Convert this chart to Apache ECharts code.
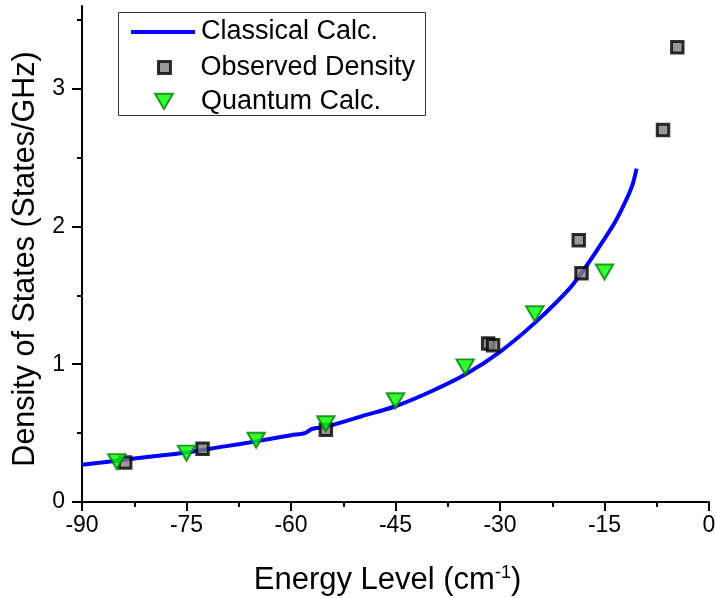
<!DOCTYPE html>
<html>
<head>
<meta charset="utf-8">
<script src="https://cdn.jsdelivr.net/npm/echarts@6/dist/echarts.min.js"></script>
<style>
  html, body { margin: 0; padding: 0; background: #fff; }
  #chart { width: 715px; height: 598px; }
</style>
</head>
<body>
<div id="chart"></div>
<script>
// Classical calculation (continuous curve)
const classicalX = [-90, -85, -80, -75, -70, -65, -60, -58, -57, -55, -50, -45, -40, -35, -30, -25, -20, -17.5, -15, -13.5, -12, -11, -10.4];
const classicalY = [0.27, 0.30, 0.33, 0.36, 0.40, 0.44, 0.485, 0.50, 0.53, 0.545, 0.62, 0.695, 0.80, 0.925, 1.09, 1.30, 1.55, 1.72, 1.91, 2.03, 2.18, 2.30, 2.42];

// Observed density of states
const observedX = [-83.8, -72.7, -55.0, -31.7, -31.0, -18.7, -18.3, -6.6, -4.55];
const observedY = [0.286, 0.386, 0.524, 1.15, 1.138, 1.90, 1.66, 2.70, 3.30];

// Quantum calculation
const quantumX = [-85, -75, -65, -55, -45, -35, -25, -15];
const quantumY = [0.293, 0.355, 0.448, 0.568, 0.735, 0.981, 1.366, 1.669];

// Axis ticks
const yMajorTicks = [0, 1, 2, 3];
const yMinorTicks = [0.5, 1.5, 2.5, 3.5];

const seriesNames = ['Classical Calc.', 'Observed Density', 'Quantum Calc.'];

const zip = (xs, ys) => xs.map((x, i) => [x, ys[i]]);
const FONT = 'Liberation Sans, Arial, sans-serif';
const legendText = { fontFamily: FONT, fontSize: 27, color: '#000', lineHeight: 30 };
// downward-pointing triangle used for the quantum markers' legend icon
const downTriangle = 'path://M0,0 L20,0 L10,17 Z';

const chart = echarts.init(document.getElementById('chart'), null, { renderer: 'canvas' });

chart.setOption({
  animation: false,
  backgroundColor: '#fff',
  grid: { left: 82, right: 6, top: 6, bottom: 96, containLabel: false, outerBoundsMode: 'none' },
  graphic: [{
    type: 'rect',
    left: 118, top: 12,
    shape: { width: 307, height: 103 },
    style: { fill: '#fff', stroke: '#333', lineWidth: 1 },
    z: 50
  }],
  legend: [
    {
      data: [{ name: seriesNames[0], icon: 'rect' }],
      left: 131, top: 17, padding: 0,
      itemWidth: 64, itemHeight: 4,
      selectedMode: false, z: 60,
      itemStyle: { color: '#0000ff' },
      textStyle: Object.assign({}, legendText, { padding: [0, 0, 0, 1] })
    },
    {
      data: [{ name: seriesNames[1], icon: 'rect' }],
      left: 157, top: 52.5, padding: 0,
      itemWidth: 12, itemHeight: 12,
      selectedMode: false, z: 60,
      itemStyle: { color: '#808080', borderColor: '#000', borderWidth: 3 },
      textStyle: Object.assign({}, legendText, { padding: [0, 0, 0, 25] })
    },
    {
      data: [{ name: seriesNames[2], icon: downTriangle }],
      left: 154, top: 86.5, padding: 0,
      itemWidth: 18, itemHeight: 16,
      selectedMode: false, z: 60,
      itemStyle: { color: '#00ff00', borderColor: '#008000', borderWidth: 2 },
      textStyle: Object.assign({}, legendText, { padding: [0, 0, 0, 23] })
    }
  ],
  xAxis: {
    type: 'value',
    min: -90,
    max: 0,
    interval: 15,
    name: 'Energy Level (cm{sup|-1})',
    nameLocation: 'middle',
    nameGap: 62,
    nameTextStyle: {
      fontFamily: FONT, fontSize: 31, color: '#000', padding: [0, 16, 0, 0],
      rich: { sup: { fontFamily: FONT, fontSize: 18, color: '#000', verticalAlign: 'top', padding: [0, 0, 14, 0] } }
    },
    axisLine: { onZero: false, lineStyle: { color: '#000', width: 2 } },
    axisTick: { length: 9, lineStyle: { color: '#000', width: 2 } },
    minorTick: { show: true, splitNumber: 2, length: 5, lineStyle: { color: '#000', width: 2 } },
    splitLine: { show: false },
    axisLabel: { fontFamily: FONT, fontSize: 23, color: '#000', margin: 12 }
  },
  yAxis: [
    {
      type: 'value',
      position: 'left',
      min: 0,
      max: 3.6,
      name: 'Density of States (States/GHz)',
      nameLocation: 'middle',
      nameGap: 41,
      nameTextStyle: { fontFamily: FONT, fontSize: 30.5, color: '#000', padding: [0, 10, 0, 0] },
      axisLine: { show: true, onZero: false, lineStyle: { color: '#000', width: 2 } },
      axisTick: { show: true, length: 10, customValues: yMajorTicks, lineStyle: { color: '#000', width: 2 } },
      axisLabel: { fontFamily: FONT, fontSize: 23, color: '#000', margin: 17, customValues: yMajorTicks },
      splitLine: { show: false }
    },
    {
      type: 'value',
      position: 'left',
      offset: 0,
      min: 0,
      max: 3.6,
      axisLine: { show: false, onZero: false },
      axisTick: { show: true, length: 5, customValues: yMinorTicks, lineStyle: { color: '#000', width: 2 } },
      axisLabel: { show: false, customValues: yMinorTicks },
      splitLine: { show: false }
    }
  ],
  series: [
    {
      name: seriesNames[0],
      type: 'line',
      data: zip(classicalX, classicalY),
      smooth: 0.3,
      symbol: 'none',
      lineStyle: { color: '#0000ff', width: 4 },
      itemStyle: { color: '#0000ff' },
      z: 2
    },
    {
      name: seriesNames[1],
      type: 'scatter',
      data: zip(observedX, observedY),
      symbol: 'rect',
      symbolSize: 11.5,
      itemStyle: { color: '#808080', borderColor: '#000', borderWidth: 3 },
      z: 3
    },
    {
      name: seriesNames[2],
      type: 'scatter',
      data: zip(quantumX, quantumY),
      symbol: 'triangle',
      symbolRotate: 180,
      symbolSize: [17.5, 15],
      itemStyle: { color: '#00ff00', borderColor: '#008000', borderWidth: 2 },
      z: 4
    }
  ]
});
</script>
</body>
</html>
